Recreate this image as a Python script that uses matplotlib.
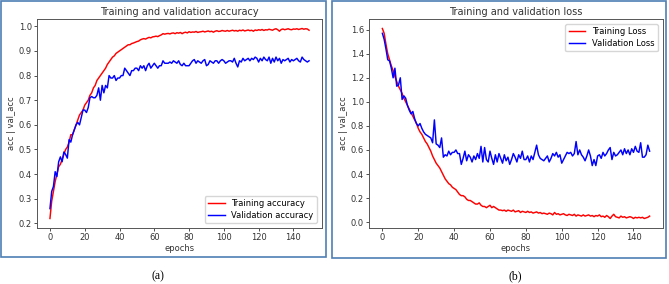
import numpy as np
import matplotlib
matplotlib.use("Agg")
import matplotlib.pyplot as plt
from matplotlib.patches import Rectangle

# ---------------- data ----------------
epochs = np.arange(150)

train_acc = [
    0.22, 0.29, 0.33, 0.37, 0.40, 0.43, 0.44, 0.46, 0.48, 0.50,
    0.51, 0.53, 0.56, 0.56, 0.58, 0.60, 0.62, 0.64, 0.65, 0.66,
    0.68, 0.69, 0.70, 0.72, 0.73, 0.75, 0.76, 0.78, 0.79, 0.80,
    0.81, 0.82, 0.83, 0.845, 0.855, 0.865, 0.875, 0.88, 0.89, 0.895,
    0.90, 0.905, 0.91, 0.915, 0.92, 0.925, 0.925, 0.93, 0.932, 0.935,
    0.938, 0.94, 0.945, 0.948, 0.95, 0.948, 0.952, 0.955, 0.953, 0.957,
    0.958, 0.96, 0.958, 0.962, 0.965, 0.97, 0.968, 0.97, 0.971, 0.969,
    0.972, 0.973, 0.97, 0.974, 0.972, 0.975, 0.97, 0.974, 0.976, 0.973,
    0.978, 0.975, 0.977, 0.976, 0.979, 0.975, 0.977, 0.978, 0.98, 0.977,
    0.979, 0.981, 0.978, 0.98, 0.976, 0.98, 0.982, 0.979, 0.98, 0.983,
    0.981, 0.98, 0.983, 0.98, 0.982, 0.984, 0.981, 0.983, 0.98, 0.984,
    0.982, 0.985, 0.981, 0.983, 0.985, 0.982, 0.984, 0.98, 0.985, 0.983,
    0.986, 0.984, 0.987, 0.983, 0.986, 0.985, 0.988, 0.986, 0.984, 0.988,
    0.99, 0.986, 0.98, 0.987, 0.989, 0.986, 0.988, 0.99, 0.987, 0.986,
    0.989, 0.988, 0.99, 0.987, 0.989, 0.991, 0.988, 0.99, 0.989, 0.984,
]

val_acc = [
    0.26, 0.33, 0.35, 0.41, 0.39, 0.45, 0.47, 0.45, 0.49, 0.48,
    0.465, 0.54, 0.53, 0.56, 0.58, 0.60, 0.61, 0.60, 0.63, 0.66,
    0.66, 0.65, 0.67, 0.71, 0.715, 0.71, 0.71, 0.72, 0.75, 0.70,
    0.76, 0.73, 0.76, 0.75, 0.80, 0.79, 0.79, 0.80, 0.78, 0.79,
    0.79, 0.80, 0.80, 0.83, 0.82, 0.81, 0.80, 0.82, 0.82, 0.83,
    0.83, 0.82, 0.84, 0.83, 0.84, 0.82, 0.84, 0.85, 0.83, 0.84,
    0.85, 0.84, 0.83, 0.84, 0.84, 0.86, 0.85, 0.85, 0.85, 0.855,
    0.85, 0.86, 0.855, 0.85, 0.86, 0.845, 0.84, 0.85, 0.84, 0.84,
    0.84, 0.85, 0.86, 0.865, 0.85, 0.86, 0.855, 0.85, 0.86, 0.865,
    0.84, 0.845, 0.86, 0.855, 0.85, 0.86, 0.86, 0.85, 0.86, 0.865,
    0.86, 0.85, 0.855, 0.86, 0.86, 0.855, 0.87, 0.85, 0.835, 0.86,
    0.855, 0.87, 0.86, 0.865, 0.87, 0.86, 0.87, 0.865, 0.875, 0.87,
    0.855, 0.87, 0.86, 0.875, 0.865, 0.86, 0.875, 0.85, 0.87, 0.855,
    0.875, 0.86, 0.87, 0.85, 0.865, 0.86, 0.865, 0.87, 0.855, 0.865,
    0.86, 0.865, 0.87, 0.86, 0.855, 0.875, 0.865, 0.86, 0.855, 0.86,
]

train_loss = [
    1.61, 1.57, 1.48, 1.40, 1.35, 1.30, 1.26, 1.21, 1.17, 1.13,
    1.10, 1.07, 1.03, 1.00, 0.97, 0.94, 0.91, 0.88, 0.85, 0.82,
    0.78, 0.75, 0.73, 0.70, 0.67, 0.65, 0.62, 0.59, 0.55, 0.52,
    0.49, 0.47, 0.45, 0.42, 0.39, 0.36, 0.34, 0.32, 0.31, 0.29,
    0.28, 0.27, 0.25, 0.23, 0.22, 0.22, 0.21, 0.19, 0.18, 0.18,
    0.17, 0.16, 0.15, 0.15, 0.16, 0.14, 0.13, 0.13, 0.12, 0.13,
    0.14, 0.12, 0.13, 0.12, 0.11, 0.10, 0.10, 0.095, 0.10, 0.09,
    0.10, 0.095, 0.09, 0.10, 0.085, 0.09, 0.095, 0.08, 0.09, 0.085,
    0.08, 0.09, 0.08, 0.085, 0.075, 0.08, 0.085, 0.075, 0.08, 0.07,
    0.075, 0.07, 0.065, 0.075, 0.07, 0.06, 0.08, 0.065, 0.07, 0.06,
    0.065, 0.07, 0.06, 0.055, 0.065, 0.06, 0.055, 0.065, 0.05, 0.06,
    0.055, 0.05, 0.06, 0.05, 0.055, 0.06, 0.05, 0.055, 0.045, 0.055,
    0.05, 0.06, 0.045, 0.05, 0.04, 0.055, 0.045, 0.03, 0.05, 0.065,
    0.045, 0.04, 0.035, 0.05, 0.04, 0.045, 0.035, 0.04, 0.045, 0.04,
    0.03, 0.04, 0.035, 0.04, 0.035, 0.04, 0.03, 0.035, 0.04, 0.05,
]

val_loss = [
    1.57, 1.52, 1.44, 1.35, 1.34, 1.28, 1.20, 1.28, 1.13, 1.14,
    1.20, 1.02, 1.05, 1.03, 0.97, 0.93, 0.90, 0.92, 0.86, 0.82,
    0.80, 0.82, 0.78, 0.75, 0.73, 0.72, 0.71, 0.70, 0.66, 0.85,
    0.65, 0.64, 0.62, 0.70, 0.54, 0.56, 0.55, 0.59, 0.56, 0.58,
    0.58, 0.60, 0.57, 0.57, 0.48, 0.53, 0.59, 0.51, 0.56, 0.54,
    0.50, 0.55, 0.52, 0.57, 0.53, 0.63, 0.50, 0.62, 0.52, 0.50,
    0.59, 0.53, 0.48, 0.56, 0.50, 0.57, 0.53, 0.49, 0.56, 0.51,
    0.54, 0.48, 0.52, 0.57, 0.54, 0.50, 0.56, 0.53, 0.59, 0.52,
    0.52, 0.55, 0.50, 0.55, 0.52, 0.58, 0.64, 0.56, 0.53, 0.52,
    0.51, 0.53, 0.55, 0.50, 0.53, 0.57, 0.55, 0.58, 0.54, 0.56,
    0.49, 0.52, 0.55, 0.58, 0.57, 0.58, 0.55, 0.57, 0.67, 0.56,
    0.60, 0.56, 0.54, 0.51, 0.55, 0.60, 0.55, 0.47, 0.52, 0.47,
    0.55, 0.56, 0.53, 0.58, 0.55, 0.57, 0.60, 0.62, 0.52, 0.58,
    0.55, 0.56, 0.58, 0.60, 0.56, 0.61, 0.57, 0.60, 0.56, 0.61,
    0.58, 0.63, 0.59, 0.58, 0.66, 0.54, 0.54, 0.56, 0.64, 0.59,
]

# ---------------- figure ----------------
W, H = 669, 284
fig = plt.figure(figsize=(W / 100, H / 100), dpi=100)

tick_fs = 6.0
lab_fs = 6.0
title_fs = 7.0
txt_col = "#333333"


def px_box(x0, y0, x1, y1):
    # pixel box (top-left origin) -> figure fraction [l, b, w, h]
    return [x0 / W, 1 - y1 / H, (x1 - x0) / W, (y1 - y0) / H]


def style(ax):
    for s in ax.spines.values():
        s.set_color("#555555")
        s.set_linewidth(0.7)
    ax.tick_params(labelsize=tick_fs, colors=txt_col, length=2.2, width=0.6,
                   pad=1.5)
    ax.set_xlabel("epochs", fontsize=lab_fs, color=txt_col, labelpad=1)
    ax.set_ylabel("acc | val_acc", fontsize=lab_fs, color=txt_col, labelpad=2)
    ax.set_xticks([0, 20, 40, 60, 80, 100, 120, 140])


ax1 = fig.add_axes(px_box(37, 19, 322, 228))
ax1.plot(epochs, train_acc, color="red", lw=1.05, label="Training accuracy")
ax1.plot(epochs, val_acc, color="blue", lw=1.05, label="Validation accuracy")
ax1.set_title("Training and validation accuracy", fontsize=title_fs,
              color=txt_col, pad=3)
style(ax1)
ax1.legend(loc="lower right", fontsize=lab_fs, handlelength=2.0,
           borderpad=0.4, labelspacing=0.3, borderaxespad=0.6)

ax2 = fig.add_axes(px_box(369, 19, 663, 228))
ax2.plot(epochs, train_loss, color="red", lw=1.05, label="Training Loss")
ax2.plot(epochs, val_loss, color="blue", lw=1.05, label="Validation Loss")
ax2.set_title("Training and validation loss", fontsize=title_fs,
              color=txt_col, pad=3)
style(ax2)
ax2.legend(loc="upper right", fontsize=lab_fs, handlelength=2.0,
           borderpad=0.4, labelspacing=0.3, borderaxespad=0.6)

# panel borders
border_col = "#4f7fb5"
fig.patches.append(Rectangle((1 / W, 1 - 257 / H), 325 / W, 256 / H,
                             transform=fig.transFigure, fill=False,
                             edgecolor=border_col, lw=1.2))
fig.patches.append(Rectangle((332 / W, 1 - 258 / H), 334 / W, 257 / H,
                             transform=fig.transFigure, fill=False,
                             edgecolor=border_col, lw=1.2))

# captions
fig.text(158 / W, 1 - 276 / H, "(a)", ha="center", va="center",
         fontsize=8.5, family="Liberation Serif")
fig.text(515 / W, 1 - 276 / H, "(b)", ha="center", va="center",
         fontsize=8.5, family="Liberation Serif")

fig.savefig("out.png", dpi=100)
